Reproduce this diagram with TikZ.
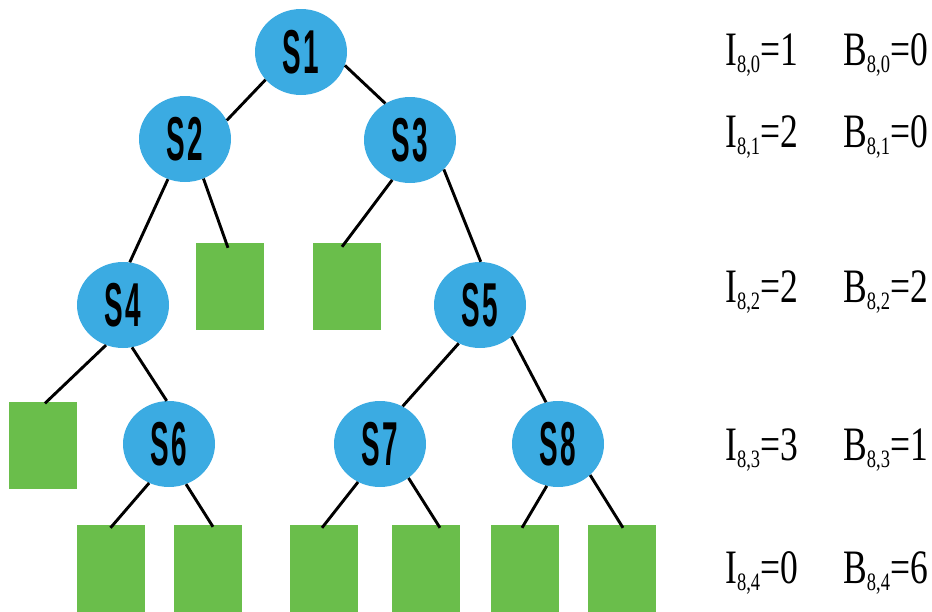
\documentclass[tikz,border=0pt]{standalone}
\usepackage{fontspec}
\setmainfont{Liberation Serif}
\newfontfamily\statefont[FakeStretch=0.45]{Liberation Sans}
\newfontfamily\valfont[FakeStretch=0.74]{Liberation Serif}
\usetikzlibrary{shapes.geometric}
\definecolor{stateblue}{RGB}{59,171,226}
\definecolor{leafgreen}{RGB}{106,190,75}
% lowered index such as 8,0
\newcommand\lvsub[1]{\raisebox{-7pt}{\fontsize{25}{25}\selectfont #1}}
% state name: letter, small gap, digit
\newcommand\stname[1]{S\hspace{2.5pt}#1}

\begin{document}
\begin{tikzpicture}[x=1pt,y=-1pt,
  state/.style={ellipse, fill=stateblue, minimum width=92pt, minimum height=86pt,
    inner sep=0pt, font=\statefont\fontsize{62}{62}\selectfont\bfseries},
  leaf/.style={rectangle, fill=leafgreen, minimum width=68pt, minimum height=87pt, inner sep=0pt},
  link/.style={line width=2.9pt, black},
  val/.style={anchor=base west, inner sep=0pt, font=\valfont\fontsize{48}{48}\selectfont}]
\useasboundingbox (0,0) rectangle (932,611);

% states
\node[state] (s1) at (301,52)  {\stname1};
\node[state] (s2) at (185,139) {\stname2};
\node[state] (s3) at (410,140) {\stname3};
\node[state] (s4) at (123,305) {\stname4};
\node[state] (s5) at (480,305) {\stname5};
\node[state] (s6) at (169,444) {\stname6};
\node[state] (s7) at (380,444) {\stname7};
\node[state] (s8) at (558,444) {\stname8};

% leaves
\node[leaf] (q1) at (230,286.5) {};
\node[leaf] (q2) at (346.5,286.5) {};
\node[leaf] (q3) at (43,445) {};
\node[leaf] (b1) at (110.5,568.5) {};
\node[leaf] (b2) at (207.5,568.5) {};
\node[leaf] (b3) at (323.5,568.5) {};
\node[leaf] (b4) at (425.5,568.5) {};
\node[leaf] (b5) at (524.5,568.5) {};
\node[leaf] (b6) at (622,568.5) {};

% branches
\draw[link] (s1.218) -- (s2.24);
\draw[link] (s1.-17) -- (s3.124);
\draw[link] (s2.247) -- (s4.81);
\draw[link] (s2.295) -- ([xshift=-2pt,yshift=-5pt]q1.north);
\draw[link] (s3.246) -- ([xshift=-4.5pt,yshift=-4pt]q2.north);
\draw[link] (s3.319) -- (s5.89);
\draw[link] (s4.247) -- ([xshift=2pt,yshift=-2pt]q3.north);
\draw[link] (s4.282) -- (s6.93);
\draw[link] (s5.241) -- (s7.59);
\draw[link] (s5.315) -- (s8.106);
\draw[link] (s6.243) -- ([yshift=-3pt]b1.north);
\draw[link] (s6.293) -- ([xshift=5.5pt,yshift=-2pt]b2.north);
\draw[link] (s7.240) -- ([xshift=-1.5pt,yshift=-3pt]b3.north);
\draw[link] (s7.310) -- ([xshift=14.5pt,yshift=-3pt]b4.north);
\draw[link] (s8.255) -- ([xshift=-2.5pt,yshift=-3pt]b5.north);
\draw[link] (s8.316) -- ([xshift=1pt,yshift=-3pt]b6.north);

% level values
\node[val] (i0) at (725,65)  {I\lvsub{8,0}=1};
\node[val] (c0) at (843,65)  {B\lvsub{8,0}=0};
\node[val] (i1) at (725,147) {I\lvsub{8,1}=2};
\node[val] (c1) at (843,147) {B\lvsub{8,1}=0};
\node[val] (i2) at (725,302) {I\lvsub{8,2}=2};
\node[val] (c2) at (843,302) {B\lvsub{8,2}=2};
\node[val] (i3) at (725,460) {I\lvsub{8,3}=3};
\node[val] (c3) at (843,460) {B\lvsub{8,3}=1};
\node[val] (i4) at (725,583) {I\lvsub{8,4}=0};
\node[val] (c4) at (843,583) {B\lvsub{8,4}=6};
\end{tikzpicture}
\end{document}
